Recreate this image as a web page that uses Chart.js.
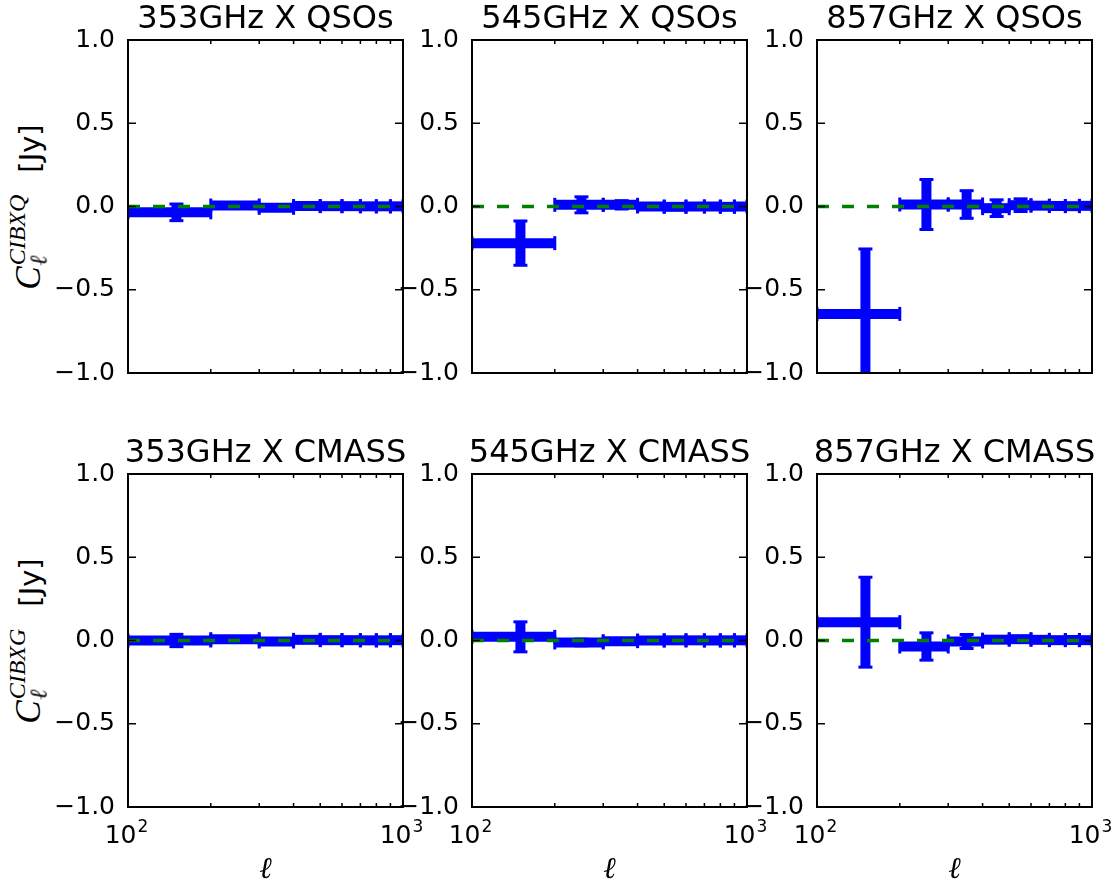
<!DOCTYPE html>
<html>
<head>
<meta charset="utf-8">
<script src="https://cdn.jsdelivr.net/npm/chart.js@4.4.0/dist/chart.umd.min.js"></script>
<style>
  body { margin: 0; background: #fff; width: 1112px; height: 884px; position: relative; overflow: hidden; font-family: "DejaVu Sans", sans-serif; color: #000; }
  canvas { position: absolute; }
  .title { position: absolute; font-size: 32px; line-height: 32px; white-space: nowrap; transform: translateX(-50%); }
  .ylab { position: absolute; white-space: nowrap; transform: translate(-50%, -50%) rotate(-90deg); font-size: 29px; line-height: 40px; }
  .m { font-family: "Liberation Serif", serif; font-style: italic; font-size: 35px; }
  .ss { display: inline-grid; font-size: 24px; margin-left: 1px; }
  .ss > span { grid-area: 1 / 1; }
  .sup { transform: translateY(-0.6em); }
  .sub { transform: translateY(0.3em); }
  .jy { margin-left: 22px; }
  .xlab { position: absolute; font-family: "Liberation Serif", serif; font-style: italic; font-size: 30px; line-height: 30px; transform: translateX(-50%); }
</style>
</head>
<body>
<script>
// ---- dados ----
const binLo  = [100, 200, 300, 400, 500, 600, 700, 800, 900];
const binHi  = [200, 300, 400, 500, 600, 700, 800, 900, 1000];
const binMid = [150, 250, 350, 450, 550, 650, 750, 850, 950];

// CIB x QSOs
const q353    = [-0.035, 0.006, -0.008, 0.003, 0.002, 0.002, 0.001, 0.001, 0.001];
const q353Err = [0.050, 0.010, 0.006, 0.006, 0.005, 0.005, 0.004, 0.004, 0.004];
const q545    = [-0.220, 0.010, 0.010, 0.000, -0.002, 0.000, 0.000, -0.002, 0.000];
const q545Err = [0.133, 0.048, 0.025, 0.010, 0.008, 0.006, 0.006, 0.005, 0.005];
const q857    = [-0.645, 0.012, 0.012, -0.010, 0.008, 0.005, 0.003, 0.002, 0.004];
const q857Err = [0.390, 0.150, 0.083, 0.050, 0.038, 0.015, 0.010, 0.008, 0.006];

// CIB x CMASS
const g353    = [0.000, 0.008, -0.006, 0.004, 0.002, 0.002, 0.001, 0.001, 0.002];
const g353Err = [0.037, 0.010, 0.008, 0.006, 0.005, 0.005, 0.004, 0.004, 0.004];
const g545    = [0.022, -0.012, -0.004, 0.000, 0.001, 0.001, 0.000, 0.001, 0.001];
const g545Err = [0.090, 0.020, 0.010, 0.008, 0.006, 0.006, 0.005, 0.005, 0.005];
const g857    = [0.110, -0.036, -0.006, 0.005, 0.008, 0.004, 0.002, 0.003, 0.002];
const g857Err = [0.270, 0.082, 0.042, 0.015, 0.010, 0.008, 0.006, 0.006, 0.005];

const titles = ['353GHz X QSOs', '545GHz X QSOs', '857GHz X QSOs',
                '353GHz X CMASS', '545GHz X CMASS', '857GHz X CMASS'];
const yTicks = [-1, -0.5, 0, 0.5, 1];
const xTickMarks = [100, 200, 300, 400, 500, 600, 700, 800, 900, 1000];
const xTickLabels = [100, 1000];
const xTickExp = ['2', '3'];

// ---- layout ----
const colLeft = [128, 472, 817];
const rowTop = [40, 474];
const plotW = 275, plotH = 333;
const padL = 75, padR = 30, padT = 45, padB = 50;

const fmtY = v => (v < 0 ? '\u2212' : '') + Math.abs(v).toFixed(1);

function seg(ctx, x0, y0, x1, y1) {
  ctx.beginPath(); ctx.moveTo(x0, y0); ctx.lineTo(x1, y1); ctx.stroke();
}

// barras de erro (x = largura do bin, y = erro)
const errorBars = {
  id: 'errorBars',
  beforeDatasetsDraw(chart) {
    const { ctx, chartArea: a, scales: { x, y } } = chart;
    const ds = chart.data.datasets[0];
    const cap = 7;
    ctx.save();
    ctx.beginPath(); ctx.rect(a.left, a.top, a.right - a.left, a.bottom - a.top); ctx.clip();
    ctx.strokeStyle = '#0000ff';
    ctx.lineCap = 'butt';
    ds.data.forEach((p, i) => {
      const x0 = x.getPixelForValue(ds.xLo[i]), x1 = x.getPixelForValue(ds.xHi[i]);
      const xc = x.getPixelForValue(p.x), yc = y.getPixelForValue(p.y);
      const yt = y.getPixelForValue(p.y + ds.yErr[i]), yb = y.getPixelForValue(p.y - ds.yErr[i]);
      ctx.lineWidth = 10;
      seg(ctx, x0, yc, x1, yc);
      seg(ctx, xc, yt, xc, yb);
      ctx.lineWidth = 3;
      seg(ctx, x0, yc - cap, x0, yc + cap);
      seg(ctx, x1, yc - cap, x1, yc + cap);
      seg(ctx, xc - cap, yt, xc + cap, yt);
      seg(ctx, xc - cap, yb, xc + cap, yb);
    });
    ctx.restore();
  }
};

// moldura e ticks para dentro (estilo matplotlib)
const frame = {
  id: 'frame',
  afterDraw(chart) {
    const { ctx, chartArea: a, scales: { x, y } } = chart;
    ctx.save();
    ctx.strokeStyle = '#000';
    ctx.lineWidth = 1.5;
    yTicks.forEach(v => {
      const py = y.getPixelForValue(v);
      seg(ctx, a.left, py, a.left + 8, py);
      seg(ctx, a.right, py, a.right - 8, py);
    });
    xTickMarks.forEach(v => {
      const px = x.getPixelForValue(v);
      const len = xTickLabels.includes(v) ? 8 : 4;
      seg(ctx, px, a.bottom, px, a.bottom - len);
      seg(ctx, px, a.top, px, a.top + len);
    });
    ctx.lineWidth = 2;
    ctx.strokeRect(a.left, a.top, a.right - a.left, a.bottom - a.top);

    if (chart.options.showXLabels) {
      ctx.fillStyle = '#000';
      ctx.textBaseline = 'alphabetic';
      xTickLabels.forEach((v, i) => {
        const px = x.getPixelForValue(v);
        ctx.font = '25px "DejaVu Sans"';
        const wb = ctx.measureText('10').width;
        ctx.font = '17px "DejaVu Sans"';
        const we = ctx.measureText(xTickExp[i]).width;
        const x0 = px - (wb + we) / 2 - 2;
        ctx.font = '25px "DejaVu Sans"';
        ctx.fillText('10', x0, a.bottom + 36);
        ctx.font = '17px "DejaVu Sans"';
        ctx.fillText(xTickExp[i], x0 + wb + 1, a.bottom + 25);
      });
    }
    ctx.restore();
  }
};

const panels = [
  { vals: q353, errs: q353Err }, { vals: q545, errs: q545Err }, { vals: q857, errs: q857Err },
  { vals: g353, errs: g353Err }, { vals: g545, errs: g545Err }, { vals: g857, errs: g857Err }
];

panels.forEach((p, k) => {
  const col = k % 3, row = Math.floor(k / 3);
  const L = colLeft[col], T = rowTop[row];

  const cv = document.createElement('canvas');
  cv.width = padL + plotW + padR;
  cv.height = padT + plotH + padB;
  cv.style.left = (L - padL) + 'px';
  cv.style.top = (T - padT) + 'px';
  document.body.appendChild(cv);

  const t = document.createElement('div');
  t.className = 'title';
  t.textContent = titles[k];
  t.style.left = (L + plotW / 2) + 'px';
  t.style.top = (T - 39) + 'px';
  document.body.appendChild(t);

  new Chart(cv, {
    type: 'scatter',
    data: {
      datasets: [
        {
          data: binMid.map((x, i) => ({ x: x, y: p.vals[i] })),
          xLo: binLo, xHi: binHi, yErr: p.errs,
          pointRadius: 0, pointHoverRadius: 0
        },
        {
          type: 'line',
          data: [{ x: 100, y: 0 }, { x: 1000, y: 0 }],
          borderColor: '#008000', borderWidth: 3.5, borderDash: [12, 13],
          pointRadius: 0, fill: false
        }
      ]
    },
    options: {
      responsive: false, animation: false, events: [],
      showXLabels: row === 1,
      layout: { padding: { left: 0, right: padR, top: padT, bottom: 0 } },
      plugins: { legend: { display: false }, tooltip: { enabled: false } },
      scales: {
        x: {
          type: 'logarithmic', min: 100, max: 1000,
          grid: { display: false }, border: { display: false },
          ticks: { display: false },
          afterFit(s) { s.height = padB; s.paddingLeft = 0; s.paddingRight = 0; }
        },
        y: {
          min: -1, max: 1,
          grid: { display: false }, border: { display: false },
          ticks: {
            stepSize: 0.5, color: '#000', padding: 5,
            font: { family: 'DejaVu Sans', size: 25 },
            callback: v => fmtY(v)
          },
          afterFit(s) { s.width = padL; s.paddingTop = 0; s.paddingBottom = 0; }
        }
      }
    },
    plugins: [errorBars, frame]
  });
});

// rótulos dos eixos
[['CIBXQ', 207], ['CIBXG', 641]].forEach(([sup, cy]) => {
  const d = document.createElement('div');
  d.className = 'ylab';
  d.style.left = '30px';
  d.style.top = cy + 'px';
  d.innerHTML = '<span class="m">C<span class="ss"><span class="sup">' + sup +
    '</span><span class="sub">\u2113</span></span></span><span class="jy">[Jy]</span>';
  document.body.appendChild(d);
});
colLeft.forEach(L => {
  const d = document.createElement('div');
  d.className = 'xlab';
  d.textContent = '\u2113';
  d.style.left = (L + plotW / 2) + 'px';
  d.style.top = '853px';
  document.body.appendChild(d);
});
</script>
</body>
</html>
